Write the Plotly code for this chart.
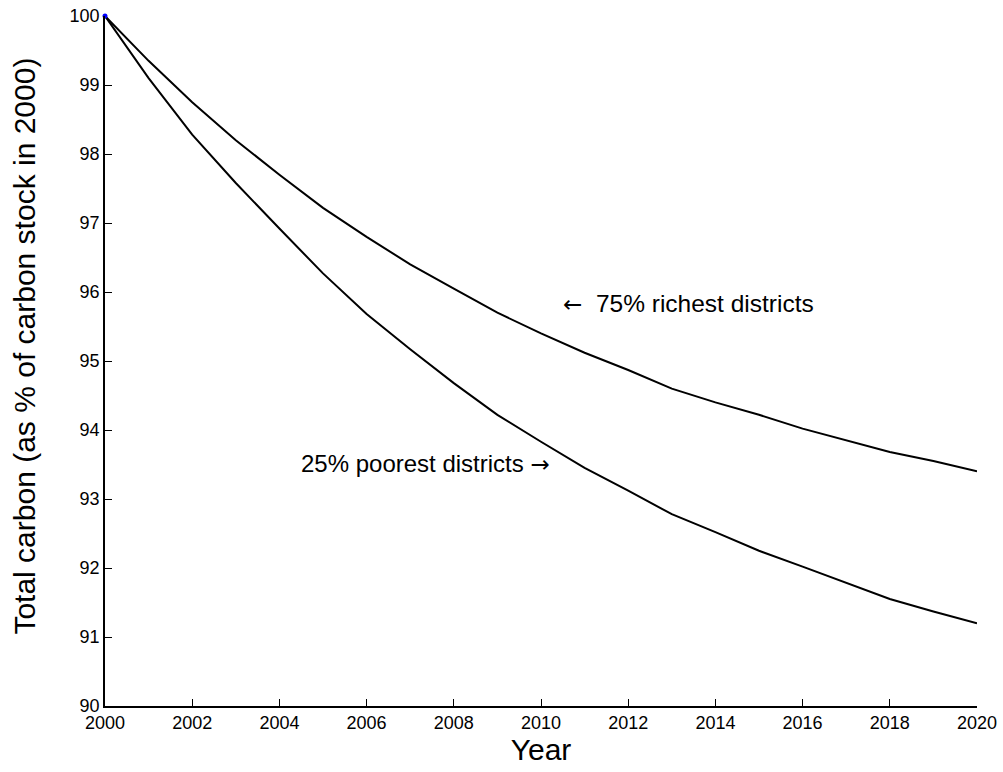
import plotly.graph_objects as go

years = list(range(2000, 2021))
richest = [100, 99.35, 98.75, 98.2, 97.7, 97.22, 96.8, 96.4, 96.05, 95.7, 95.4,
           95.12, 94.87, 94.6, 94.4, 94.22, 94.02, 93.85, 93.68, 93.55, 93.4]
poorest = [100, 99.1, 98.28, 97.58, 96.92, 96.27, 95.68, 95.17, 94.68, 94.22, 93.83,
           93.45, 93.12, 92.78, 92.52, 92.25, 92.02, 91.78, 91.55, 91.37, 91.2]
xticks = list(range(2000, 2021, 2))
yticks = list(range(90, 101))

fig = go.Figure()
fig.add_trace(go.Scatter(x=years, y=richest, mode="lines",
                         line=dict(color="black", width=2), showlegend=False))
fig.add_trace(go.Scatter(x=years, y=poorest, mode="lines",
                         line=dict(color="black", width=2), showlegend=False))
fig.add_trace(go.Scatter(x=[years[0]], y=[richest[0]], mode="markers",
                         marker=dict(color="blue", size=5), showlegend=False,
                         cliponaxis=False))

arrow_style = "font-family:DejaVu Sans;font-size:23px"
fig.add_annotation(x=2010.45, y=95.84,
                   text=f"<span style='{arrow_style}'>←</span>  75% richest districts",
                   showarrow=False, xanchor="left", yanchor="middle",
                   font=dict(size=24.5, color="black"))
fig.add_annotation(x=2004.45, y=93.52,
                   text=f"25% poorest districts <span style='{arrow_style}'>→</span>",
                   showarrow=False, xanchor="left", yanchor="middle",
                   font=dict(size=24, color="black"))

# y-axis title placed as rotated text (reference places it slightly above centre)
fig.add_annotation(xref="paper", yref="paper", x=-0.092, y=0.522,
                   text="Total carbon (as % of carbon stock in 2000)", textangle=-90,
                   showarrow=False, xanchor="center", yanchor="middle",
                   font=dict(size=30, color="black"))

axis_common = dict(showgrid=False, zeroline=False, showline=True, linecolor="black",
                   linewidth=1.5, ticks="inside", ticklen=7, tickcolor="black",
                   tickfont=dict(size=18, color="black"), mirror=False, automargin=False,
                   ticklabeloverflow="allow")

fig.update_xaxes(range=[2000, 2020], tickvals=xticks, ticklabelstandoff=0,
                 title=dict(text="Year", font=dict(size=30, color="black"), standoff=6),
                 **axis_common)
fig.update_yaxes(range=[90, 100], tickvals=yticks, **axis_common)

fig.update_layout(width=1003, height=772, plot_bgcolor="white", paper_bgcolor="white",
                  font=dict(family="Liberation Sans, Arial, Helvetica, sans-serif"),
                  margin=dict(l=105, r=26, t=16, b=66))

fig.write_html("out.html", config={"displayModeBar": False},
               post_script="document.body.style.margin='0';document.body.style.overflow='hidden';")
